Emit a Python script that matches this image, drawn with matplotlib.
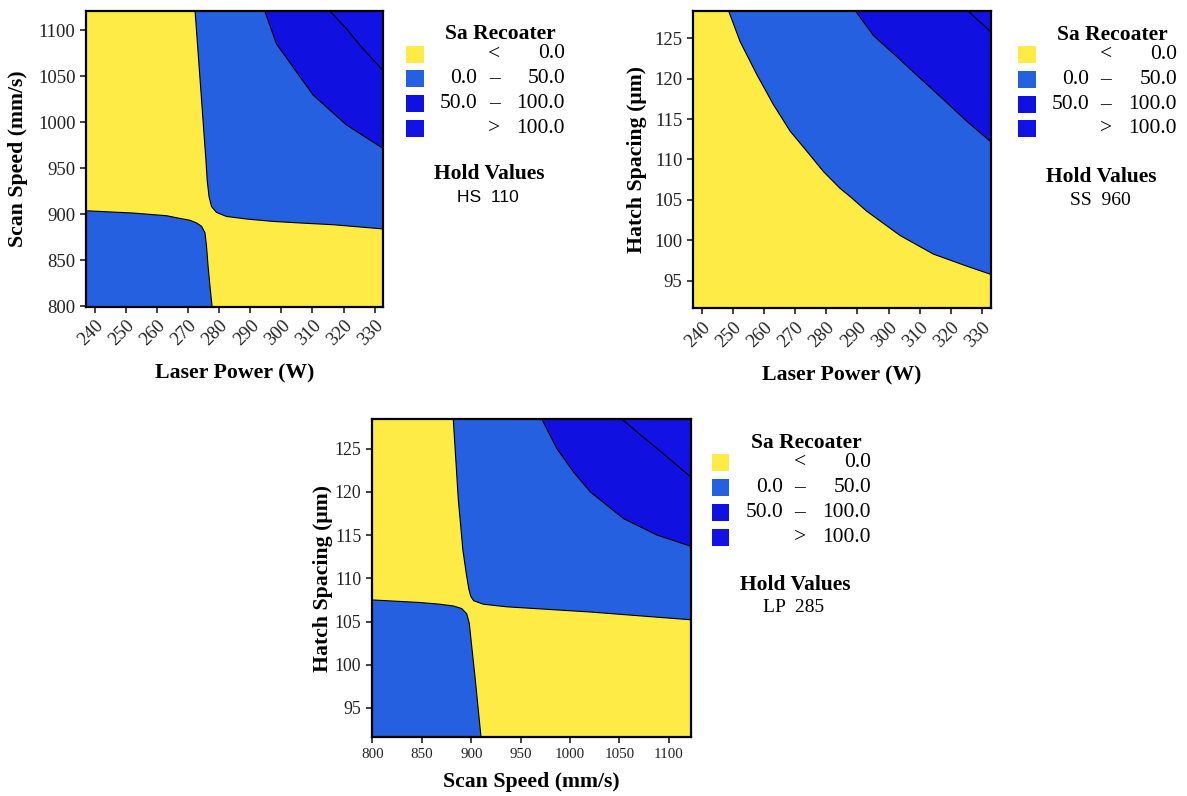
import numpy as np
import matplotlib
matplotlib.use("Agg")
import matplotlib.pyplot as plt
from matplotlib.patches import Rectangle

plt.rcParams['font.family'] = ['Liberation Serif', 'DejaVu Serif']

#Contour colours, one per Sa Recoater band
band_colors = ['#FFEB46', '#2460E0', '#1010E0', '#1212E4']
band_labels = [('', '<', '0.0'), ('0.0', '\u2013', '50.0'), ('50.0', '\u2013', '100.0'), ('', '>', '100.0')]

#Factor ranges shown on the axes
lp_range = (237.1, 332.8)
ss_range = (799.2, 1121.5)
hs_range = (91.6, 128.4)

lp_ticks = [240, 250, 260, 270, 280, 290, 300, 310, 320, 330]
ss_ticks = [800, 850, 900, 950, 1000, 1050, 1100]
hs_ticks = [95, 100, 105, 110, 115, 120, 125]

#Panel 1: Laser Power vs Scan Speed (HS held at 110), contour lines
p1_zero_tr_lp = [272.2, 275.7, 276.1, 276.7, 277.5, 279.1, 282.3, 288.8, 297.3, 305.9, 316.6, 332.8]
p1_zero_tr_ss = [1121.5, 959.1, 937.4, 919.4, 908.5, 902.1, 897.7, 894.9, 892.3, 890.6, 888.7, 884.1]
p1_zero_bl_lp = [237.1, 252.3, 263.0, 267.3, 270.5, 272.7, 274.3, 275.4, 275.9, 276.4, 277.0, 277.7]
p1_zero_bl_ss = [903.9, 901.4, 898.5, 895.6, 893.6, 890.6, 887.0, 879.8, 865.3, 843.6, 822.0, 799.2]
p1_fifty_lp = [294.6, 298.4, 304.8, 310.2, 320.9, 332.8]
p1_fifty_ss = [1121.5, 1085.4, 1055.3, 1029.8, 997.3, 971.5]
p1_hundred_lp = [315.5, 320.9, 326.2, 332.8]
p1_hundred_ss = [1121.5, 1101.9, 1080.3, 1056.0]

#Panel 2: Laser Power vs Hatch Spacing (SS held at 960)
p2_zero_lp = [248.6, 252.3, 257.7, 263.0, 268.4, 273.8, 279.1, 284.5, 287.7, 293.0, 303.7, 314.4, 325.2, 332.8]
p2_zero_hs = [128.4, 124.6, 120.5, 116.8, 113.5, 111.0, 108.5, 106.4, 105.4, 103.6, 100.6, 98.3, 96.8, 95.8]
p2_fifty_lp = [289.3, 295.2, 302.7, 308.0, 318.8, 325.2, 332.8]
p2_fifty_hs = [128.4, 125.3, 122.7, 120.8, 117.0, 114.7, 112.2]
p2_hundred_lp = [325.4, 332.8]
p2_hundred_hs = [128.4, 125.8]

#Panel 3: Scan Speed vs Hatch Spacing (LP held at 285)
p3_zero_tr_ss = [881.8, 886.9, 891.5, 895.0, 897.5, 899.5, 902.5, 912.3, 936.0, 1020.5, 1088.2, 1122.5]
p3_zero_tr_hs = [128.4, 119.1, 113.3, 110.5, 108.8, 107.9, 107.4, 107.0, 106.7, 106.1, 105.5, 105.2]
p3_zero_bl_ss = [799.2, 848.0, 868.3, 881.8, 890.3, 895.4, 898.0, 900.5, 903.8, 907.2, 909.9]
p3_zero_bl_hs = [107.5, 107.2, 107.0, 106.8, 106.5, 105.9, 104.8, 102.1, 98.6, 94.7, 91.6]
p3_fifty_ss = [971.5, 986.7, 1003.6, 1020.5, 1054.3, 1088.2, 1122.5]
p3_fifty_hs = [128.4, 125.0, 122.3, 120.0, 116.9, 115.0, 113.7]
p3_hundred_ss = [1052.7, 1071.3, 1091.6, 1122.5]
p3_hundred_hs = [128.4, 126.6, 124.7, 121.7]

W, H = 1187, 796
fig = plt.figure(figsize=(W / 100, H / 100), dpi=100)


#Pixel box (from top-left of the image) to figure fraction
def px_axes(left, top, right, bottom):
	return fig.add_axes([left / W, 1 - bottom / H, (right - left) / W, (bottom - top) / H])


#Fill the band between a contour line and one corner of the plot
def fill_band(ax, xs, ys, corner, color):
	px = list(xs) + [corner[0]]
	py = list(ys) + [corner[1]]
	ax.fill(px, py, color=color, lw=0, zorder=1)
	ax.plot(xs, ys, color='black', lw=0.8, zorder=2, solid_joinstyle='round')


def style_axes(ax, xr, yr, xt, yt, xlabel, ylabel, xrot, xfs, yfs, xlab_pos, ylab_pos):
	ax.set_xlim(*xr)
	ax.set_ylim(*yr)
	ax.set_facecolor(band_colors[0])
	ax.set_xticks(xt)
	ax.set_yticks(yt)
	ax.tick_params(direction='out', length=4, width=1.2, colors='#222222')
	for lab in ax.get_xticklabels():
		lab.set_fontsize(xfs)
		if xrot:
			lab.set_rotation(45)
			lab.set_ha('right')
			lab.set_rotation_mode('anchor')
	for lab in ax.get_yticklabels():
		lab.set_fontsize(yfs)
	for sp in ax.spines.values():
		sp.set_linewidth(1.6)
		sp.set_zorder(5)
	ax.set_xlabel(xlabel, fontsize=15.7, fontweight='bold', va='center')
	ax.set_ylabel(ylabel, fontsize=15.7, fontweight='bold', va='center')
	ax.xaxis.set_label_coords(0.5, xlab_pos)
	ax.yaxis.set_label_coords(ylab_pos, 0.5)


#Minitab style legend drawn at pixel positions
def draw_legend(sq_left, row_y, hold_text, hold_family, hold_fs, hold_dy=122):
	fs = 15.5
	fig.text((sq_left + 94.5) / W, 1 - (row_y - 20) / H, 'Sa Recoater', fontsize=fs,
		fontweight='bold', ha='center', va='center')
	for i, color in enumerate(band_colors):
		cy = row_y + i * 24.8
		fig.add_artist(Rectangle((sq_left / W, 1 - (cy + 8.5) / H), 17.5 / W, 17 / H,
			transform=fig.transFigure, facecolor=color, edgecolor='none'))
		lo, sym, hi = band_labels[i]
		if lo:
			fig.text((sq_left + 71) / W, 1 - cy / H, lo, fontsize=fs, ha='right', va='center')
		fig.text((sq_left + 88) / W, 1 - cy / H, sym, fontsize=fs, ha='center', va='center')
		fig.text((sq_left + 159) / W, 1 - cy / H, hi, fontsize=fs, ha='right', va='center')
	fig.text((sq_left + 83.5) / W, 1 - (row_y + hold_dy) / H, 'Hold Values', fontsize=fs,
		fontweight='bold', ha='center', va='center')
	fig.text((sq_left + 82) / W, 1 - (row_y + hold_dy + 23) / H, hold_text, fontsize=hold_fs,
		ha='center', va='center', family=hold_family)


#Panel 1
ax1 = px_axes(86, 10.7, 383.3, 307)
fill_band(ax1, p1_zero_tr_lp, p1_zero_tr_ss, (lp_range[1], ss_range[1]), band_colors[1])
fill_band(ax1, p1_zero_bl_lp, p1_zero_bl_ss, (lp_range[0], ss_range[0]), band_colors[1])
fill_band(ax1, p1_fifty_lp, p1_fifty_ss, (lp_range[1], ss_range[1]), band_colors[2])
fill_band(ax1, p1_hundred_lp, p1_hundred_ss, (lp_range[1], ss_range[1]), band_colors[3])
style_axes(ax1, lp_range, ss_range, lp_ticks, ss_ticks, 'Laser Power (W)', 'Scan Speed (mm/s)',
	True, 13.5, 13.5, -0.225, -0.229)
draw_legend(406, 54, 'HS  110', ['Liberation Sans', 'DejaVu Sans'], 12.5, hold_dy=120)

#Panel 2
ax2 = px_axes(692.7, 10.7, 990.7, 308.3)
fill_band(ax2, p2_zero_lp, p2_zero_hs, (lp_range[1], hs_range[1]), band_colors[1])
fill_band(ax2, p2_fifty_lp, p2_fifty_hs, (lp_range[1], hs_range[1]), band_colors[2])
fill_band(ax2, p2_hundred_lp, p2_hundred_hs, (lp_range[1], hs_range[1]), band_colors[3])
style_axes(ax2, lp_range, hs_range, lp_ticks, hs_ticks, 'Laser Power (W)', 'Hatch Spacing (\u03bcm)',
	True, 13.5, 13.5, -0.227, -0.188)
draw_legend(1018, 54.5, 'SS  960', ['Liberation Serif', 'DejaVu Serif'], 14, hold_dy=123)

#Panel 3
ss3_range = (ss_range[0], 1122.5)
ax3 = px_axes(371.7, 419.3, 691, 737.3)
fill_band(ax3, p3_zero_tr_ss, p3_zero_tr_hs, (ss3_range[1], hs_range[1]), band_colors[1])
fill_band(ax3, p3_zero_bl_ss, p3_zero_bl_hs, (ss3_range[0], hs_range[0]), band_colors[1])
fill_band(ax3, p3_fifty_ss, p3_fifty_hs, (ss3_range[1], hs_range[1]), band_colors[2])
fill_band(ax3, p3_hundred_ss, p3_hundred_hs, (ss3_range[1], hs_range[1]), band_colors[3])
style_axes(ax3, ss3_range, hs_range, ss_ticks, hs_ticks, 'Scan Speed (mm/s)', 'Hatch Spacing (\u03bcm)',
	False, 10.8, 12.8, -0.140, -0.152)
draw_legend(712, 462.7, 'LP  285', ['Liberation Serif', 'DejaVu Serif'], 14, hold_dy=122.3)

fig.savefig('out.png', dpi=100)
